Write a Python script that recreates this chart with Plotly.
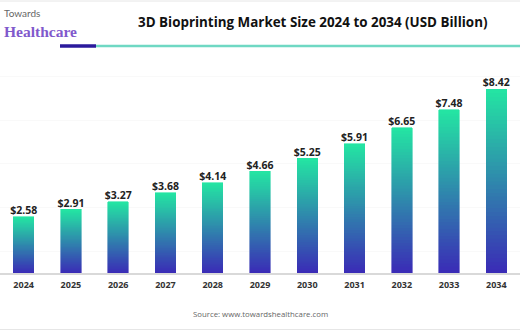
import plotly.graph_objects as go

years = ["2024", "2025", "2026", "2027", "2028", "2029", "2030", "2031", "2032", "2033", "2034"]
values = [2.58, 2.91, 3.27, 3.68, 4.14, 4.66, 5.25, 5.91, 6.65, 7.48, 8.42]
labels = ["$2.58", "$2.91", "$3.27", "$3.68", "$4.14", "$4.66", "$5.25", "$5.91", "$6.65", "$7.48", "$8.42"]

N_SEG = 48
bottom_rgb = (58, 44, 182)
top_rgb = (36, 228, 163)


def seg_color(i):
    t = i / (N_SEG - 1)
    r, g, b = (round(bottom_rgb[k] + (top_rgb[k] - bottom_rgb[k]) * t) for k in range(3))
    return f"rgb({r},{g},{b})"


fig = go.Figure()
for i in range(N_SEG):
    fig.add_trace(go.Bar(
        x=years, y=[v / N_SEG for v in values],
        marker=dict(color=seg_color(i), line=dict(width=0.6, color=seg_color(i))),
        hoverinfo="skip", showlegend=False,
    ))

fig.add_trace(go.Scatter(
    x=years, y=values, mode="text", text=labels, textposition="top center",
    textfont=dict(family="Open Sans", size=10.5, color="#222"),
    texttemplate="<b>%{text}</b>", showlegend=False, hoverinfo="skip",
))

fig.update_layout(
    width=520, height=330,
    margin=dict(l=0, r=0, t=60, b=57),
    paper_bgcolor="white", plot_bgcolor="white",
    barmode="stack", bargap=0.566,
    xaxis=dict(
        type="category", range=[-0.5, 10.5], showgrid=False,
        showline=True, linecolor="#d9d9d9", linewidth=1.5,
        ticks="outside", ticklen=2, tickcolor="rgba(0,0,0,0)",
        tickfont=dict(family="Open Sans", size=9, color="#333"),
        tickprefix="<b>", ticksuffix="</b>", fixedrange=True,
    ),
    yaxis=dict(
        range=[0, 9.75], showticklabels=False, zeroline=False,
        showgrid=True, gridcolor="#f9f9f9", tick0=1, dtick=2,
    ),
    shapes=[
        dict(type="line", xref="paper", yref="paper", x0=0, x1=1, y0=1 + 59 / 213, y1=1 + 59 / 213,
             line=dict(color="#e6e6e6", width=1)),
        dict(type="line", xref="paper", yref="paper", x0=0, x1=1, y0=-56.5 / 213, y1=-56.5 / 213,
             line=dict(color="#e6e6e6", width=1)),
        dict(type="line", xref="paper", yref="paper", x0=60 / 520, x1=96 / 520,
             y0=1 + (60 - 46) / 213, y1=1 + (60 - 46) / 213, line=dict(color="#2b1a9c", width=3.5)),
        dict(type="line", xref="paper", yref="paper", x0=96 / 520, x1=1,
             y0=1 + (60 - 46) / 213, y1=1 + (60 - 46) / 213, line=dict(color="#6fd8c3", width=2.5)),
    ],
    annotations=[
        dict(text="<b>3D Bioprinting Market Size 2024 to 2034 (USD Billion)</b>", xref="paper", yref="paper",
             x=312 / 520, y=1 + (60 - 22) / 213, xanchor="center", yanchor="middle", showarrow=False,
             font=dict(family="Open Sans", size=13.4, color="#111")),
        dict(text="Towards", xref="paper", yref="paper", x=2 / 520, y=1 + (60 - 13) / 213,
             xanchor="left", yanchor="middle", showarrow=False,
             font=dict(family="Lato", size=10, color="#666")),
        dict(text="<b>Healthcare</b>", xref="paper", yref="paper", x=2 / 520, y=1 + (60 - 31) / 213,
             xanchor="left", yanchor="middle", showarrow=False,
             font=dict(family="Liberation Serif", size=15.5, color="#8059cc")),
        dict(text="Source: www.towardshealthcare.com", xref="paper", yref="paper",
             x=260 / 520, y=-(314 - 273) / 213, xanchor="center", yanchor="middle", showarrow=False,
             font=dict(family="Open Sans", size=7.8, color="#666")),
    ],
)

fig.write_html("out.html")
